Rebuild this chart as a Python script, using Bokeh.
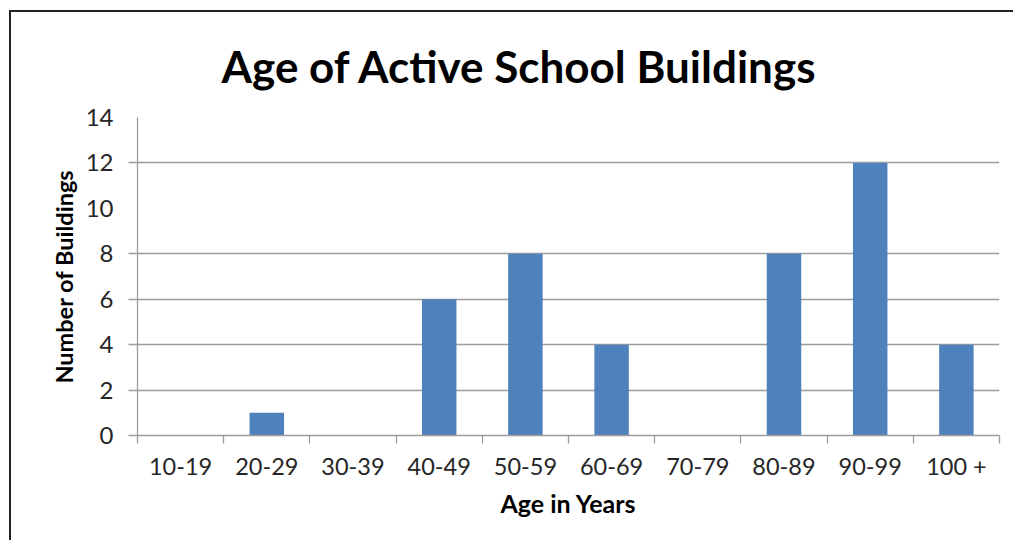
from bokeh.plotting import figure
from bokeh.models import Range1d, LinearAxis, FixedTicker, Grid, Title, ColumnDataSource
from bokeh.embed import file_html
from bokeh.resources import INLINE

categories = ["10-19", "20-29", "30-39", "40-49", "50-59", "60-69", "70-79", "80-89", "90-99", "100 +"]
counts = [0, 1, 0, 6, 8, 4, 0, 8, 12, 4]
y_ticks = [0, 2, 4, 6, 8, 10, 12, 14]
grid_ticks = [0, 2, 4, 6, 8, 12]  # lines visible in the reference
title_text = "Age of Active School Buildings"

n = len(categories)
centers = [i + 0.5 for i in range(n)]
boundaries = list(range(n + 1))

FONT = "Lato"
GRAY = "#9c9c9c"
TXT = "#262626"

p = figure(width=1004, height=530,
           x_range=Range1d(0, n), y_range=Range1d(0, 14),
           x_axis_location=None, y_axis_location=None,
           output_backend="svg", toolbar_location=None,
           min_border_left=126, min_border_right=16, min_border_top=105, min_border_bottom=107)
p.grid.visible = False
p.outline_line_color = None
p.background_fill_color = "white"
p.border_fill_color = "white"
p.styles = {"margin-left": "11px", "margin-top": "12px",
            "box-shadow": "-2px -2px 0px 0px #222222"}

p.add_layout(Grid(dimension=1, ticker=FixedTicker(ticks=grid_ticks[1:]),
                  grid_line_color=GRAY, grid_line_width=1.3))

src = ColumnDataSource(dict(x=centers, top=counts, cat=categories))
p.vbar(x="x", top="top", width=0.4, source=src, fill_color="#4F81BD", line_color=None)

yax = LinearAxis(ticker=FixedTicker(ticks=y_ticks, minor_ticks=grid_ticks),
                 axis_line_color=GRAY, axis_line_width=1.3,
                 major_tick_line_color=None, major_tick_out=9, major_tick_in=0,
                 minor_tick_line_color=GRAY, minor_tick_line_width=1.3, minor_tick_out=9, minor_tick_in=0,
                 major_label_standoff=15,
                 major_label_text_font=FONT, major_label_text_font_size="24px", major_label_text_color=TXT,
                 axis_label="Number of Buildings", axis_label_text_font=FONT,
                 axis_label_text_font_style="bold", axis_label_text_font_size="23.5px",
                 axis_label_text_color="black", axis_label_standoff=5)
p.add_layout(yax, "left")

xax = LinearAxis(ticker=FixedTicker(ticks=centers, minor_ticks=boundaries),
                 major_label_overrides={c: lab for c, lab in zip(centers, categories)},
                 axis_line_color=GRAY, axis_line_width=1.3,
                 major_tick_line_color=None, major_tick_out=8, major_tick_in=0,
                 minor_tick_line_color=GRAY, minor_tick_line_width=1.3, minor_tick_out=8, minor_tick_in=0,
                 major_label_standoff=8,
                 major_label_text_font=FONT, major_label_text_font_size="23.5px",
                 major_label_text_color=TXT,
                 axis_label="Age in Years", axis_label_text_font=FONT,
                 axis_label_text_font_style="bold", axis_label_text_font_size="25px",
                 axis_label_text_color="black", axis_label_standoff=5)
p.add_layout(xax, "below")

title = Title(text=title_text, align="left", offset=84, vertical_align="top",
              text_font=FONT, text_font_style="bold", text_font_size="44px",
              text_color="black", standoff=48)
p.add_layout(title, "above")

open("out.html", "w").write(file_html(p, INLINE))
